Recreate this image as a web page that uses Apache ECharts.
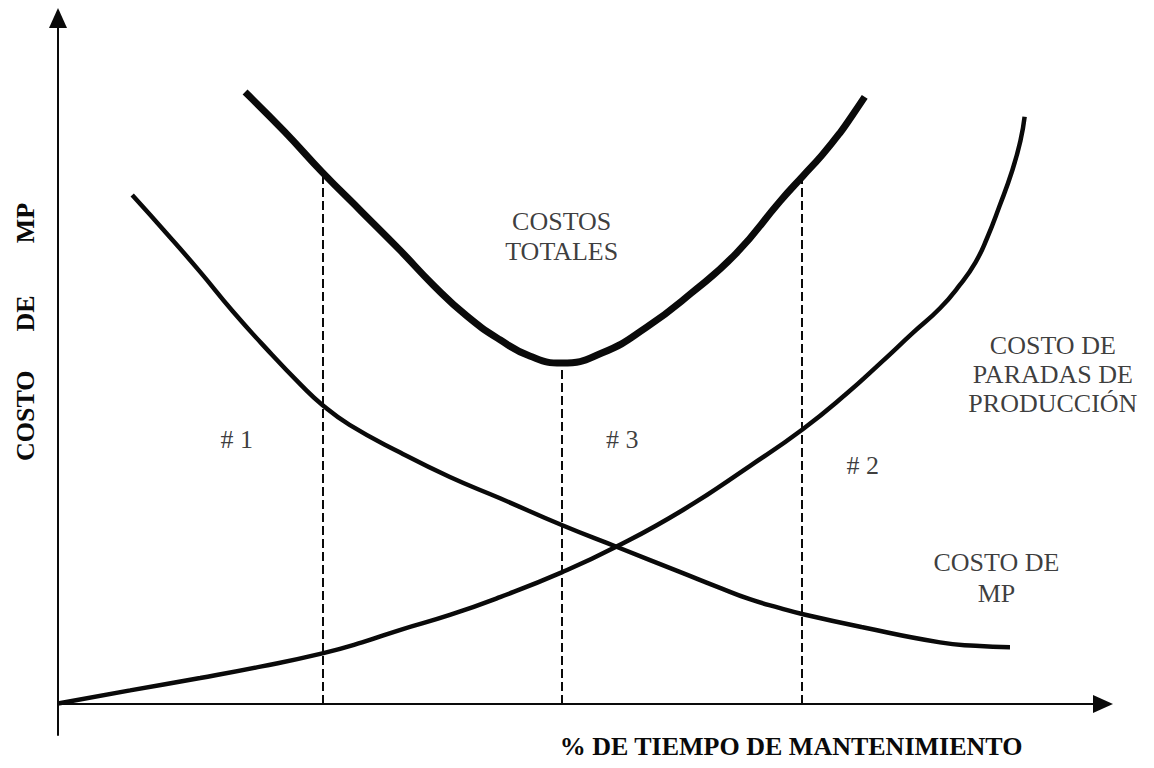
<!DOCTYPE html>
<html>
<head>
<meta charset="utf-8">
<script src="https://cdn.jsdelivr.net/npm/echarts@6/dist/echarts.min.js"></script>
<style>
  html, body { margin: 0; padding: 0; background: #fff; }
  #main { width: 1154px; height: 768px; }
</style>
</head>
<body>
<div id="main"></div>
<script>
// costos totales
const totalX = [17.9, 21.7, 25.3, 29.1, 32.7, 35.9, 39.1, 42.3, 45.2, 48.2, 52.1, 56.3, 60.6, 64.9, 69.1, 71.3, 73.1, 74.8, 76.0, 77.2]
const totalY = [89.2, 83.4, 77.5, 71.7, 66.2, 61.1, 56.6, 53.1, 50.7, 49.7, 51.2, 54.9, 59.9, 65.7, 73.3, 77.0, 80.0, 83.2, 85.8, 88.5]

// costo de MP
const mpX = [7.1, 10.4, 13.6, 16.7, 20.0, 23.2, 25.3, 27.9, 32.7, 37.5, 42.3, 48.2, 53.5, 59.8, 63.1, 66.2, 69.1, 71.3, 77.0, 84.4, 87.8, 91.1]
const mpY = [74.2, 68.6, 63.0, 57.3, 51.7, 46.6, 43.6, 40.7, 36.7, 33.1, 30.0, 26.1, 22.9, 19.1, 17.1, 15.3, 14.0, 13.1, 11.2, 9.0, 8.5, 8.3]

// costo de paradas de produccion
const paradasX = [0, 6.9, 13.6, 19.5, 25.3, 29.1, 32.7, 37.5, 42.3, 48.2, 53.5, 59.8, 66.2, 71.3, 75.5, 78.7, 81.8, 84.4, 86.3, 87.8, 88.9, 90.1, 91.3, 92.1, 92.5]
const paradasY = [0.1, 2.0, 3.8, 5.5, 7.4, 9.0, 10.8, 13.0, 15.6, 19.2, 23.0, 28.3, 34.7, 40.1, 45.3, 49.7, 54.1, 57.7, 61.1, 64.4, 67.9, 72.6, 77.7, 82.1, 85.6]

// zonas #1, #3, #2 (lineas punteadas)
const cutX = [25.3, 48.2, 71.2]
const cutTop = [77.5, 49.7, 77.0]

const FONT = '"Liberation Serif", "Times New Roman", serif'

const zip = (xs, ys) => xs.map((x, i) => [x, ys[i]])

const chart = echarts.init(document.getElementById('main'), null, { renderer: 'svg' })

const curve = (name, xs, ys, width) => ({
  name: name,
  type: 'line',
  data: zip(xs, ys),
  smooth: 0.5,
  showSymbol: false,
  symbol: 'none',
  silent: true,
  lineStyle: { color: '#0a0a0a', width: width }
})

const textStyle = (text, font) => ({
  text: text,
  font: font,
  fill: '#0a0a0a',
  align: 'center',
  verticalAlign: 'middle',
  textAlign: 'center',
  textVerticalAlign: 'middle'
})

const option = {
  animation: false,
  backgroundColor: '#fff',
  grid: { left: 58, right: 51, top: 18, bottom: 33 },
  xAxis: {
    type: 'value',
    min: 0,
    max: 100,
    axisLine: {
      onZero: true,
      symbol: ['none', 'triangle'],
      symbolSize: [18, 20],
      lineStyle: { color: '#0a0a0a', width: 2 }
    },
    axisTick: { show: false },
    axisLabel: { show: false },
    splitLine: { show: false }
  },
  yAxis: {
    type: 'value',
    min: -4.5,
    max: 100,
    axisLine: {
      show: true,
      symbol: ['none', 'triangle'],
      symbolSize: [18, 20],
      lineStyle: { color: '#0a0a0a', width: 2 }
    },
    axisTick: { show: false },
    axisLabel: { show: false },
    splitLine: { show: false }
  },
  graphic: [
    {
      type: 'text',
      x: 791,
      y: 746,
      silent: true,
      style: textStyle('% DE TIEMPO DE MANTENIMIENTO', 'bold 26px ' + FONT)
    },
    {
      type: 'text',
      x: 25,
      y: 332,
      rotation: Math.PI / 2,
      silent: true,
      style: textStyle('COSTO      DE        MP', 'bold 26px ' + FONT)
    }
  ],
  series: [
    curve('COSTOS TOTALES', totalX, totalY, 7),
    curve('COSTO DE MP', mpX, mpY, 4.5),
    curve('COSTO DE PARADAS DE PRODUCCIÓN', paradasX, paradasY, 4.5),
    {
      // lineas punteadas verticales
      type: 'line',
      data: [],
      silent: true,
      markLine: {
        silent: true,
        symbol: 'none',
        label: { show: false },
        lineStyle: { color: '#0a0a0a', width: 2, type: [9, 4] },
        data: cutX.map((x, i) => [{ coord: [x, 0] }, { coord: [x, cutTop[i]] }])
      }
    },
    {
      // textos del grafico
      type: 'scatter',
      symbolSize: 0,
      silent: true,
      label: {
        show: true,
        position: 'inside',
        formatter: '{b}',
        fontFamily: FONT,
        fontSize: 26,
        lineHeight: 30,
        color: '#0a0a0a',
        align: 'center',
        verticalAlign: 'middle'
      },
      data: [
        { name: 'COSTOS\nTOTALES', value: [48.2, 68.2] },
        { name: 'COSTO DE\nPARADAS DE\nPRODUCCIÓN', value: [95.2, 48.0], label: { lineHeight: 29 } },
        { name: 'COSTO DE\nMP', value: [89.8, 18.4], label: { lineHeight: 31 } },
        { name: '# 1', value: [17.1, 38.5] },
        { name: '# 3', value: [54.0, 38.5] },
        { name: '# 2', value: [77.0, 34.8] }
      ]
    }
  ]
}

chart.setOption(option)
</script>
</body>
</html>
